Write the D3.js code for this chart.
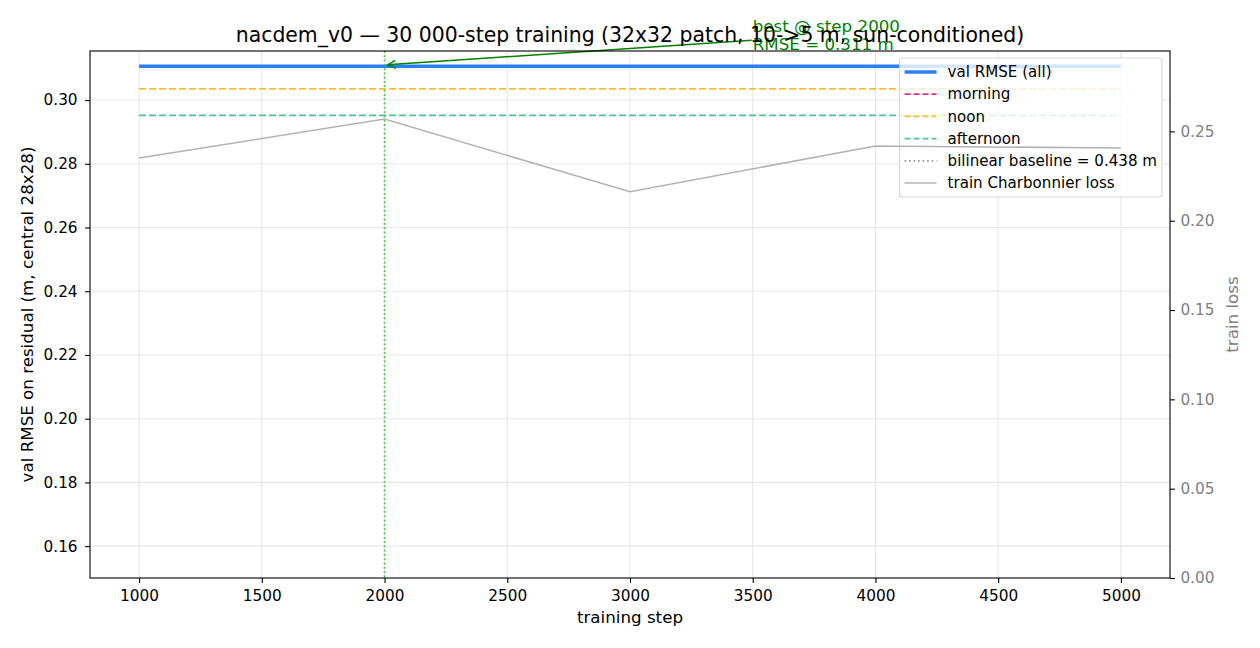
<!DOCTYPE html>
<html>
<head>
<meta charset="utf-8">
<script src="https://cdn.jsdelivr.net/npm/d3@7/dist/d3.min.js"></script>
<style>
  html, body { margin: 0; padding: 0; background: #fff; }
  svg { font-family: "DejaVu Sans", sans-serif; display: block; }
</style>
</head>
<body>
<div id="chart"></div>
<script>
// Data
const steps = [1000, 2000, 3000, 4000, 5000];
const valAll = [0.3106, 0.3106, 0.3106, 0.3106, 0.3106];
const valMorning = [null, null, null, null, null]; // not visible in the picture
const valNoon = [0.3035, 0.3035, 0.3035, 0.3035, 0.3035];
const valAfternoon = [0.2952, 0.2952, 0.2952, 0.2952, 0.2952];
const trainLoss = [0.2351, 0.2569, 0.2162, 0.2418, 0.2407];
const bilinearBaseline = 0.438;
const bestStep = 2000;
const bestRmse = 0.311;

const xTicks = [1000, 1500, 2000, 2500, 3000, 3500, 4000, 4500, 5000];
const leftTicks = [0.16, 0.18, 0.20, 0.22, 0.24, 0.26, 0.28, 0.30];
const rightTicks = [0.00, 0.05, 0.10, 0.15, 0.20, 0.25];

const titleText = "nacdem_v0 \u2014 30 000-step training (32x32 patch, 10->5 m, sun-conditioned)";

// Layout
const width = 1260, height = 648;
const margin = { top: 51, right: 90, bottom: 70, left: 90 };
const tickFs = 15.3;   // tick labels
const legendFs = 15.1;
const labelFs = 16.7;  // axis labels and annotation
const titleFs = 20.4;

const svg = d3.select("#chart")
  .append("svg")
  .attr("width", width)
  .attr("height", height);

// Scales
const x = d3.scaleLinear()
  .domain([800, 5200])
  .range([margin.left, width - margin.right]);

const y = d3.scaleLinear()
  .domain([0.15, 0.3154])
  .range([height - margin.bottom, margin.top]);

const y2 = d3.scaleLinear()
  .domain([0, 0.295])
  .range([height - margin.bottom, margin.top]);

// Clip for plot area
svg.append("clipPath").attr("id", "plotclip")
  .append("rect")
  .attr("x", margin.left).attr("y", margin.top)
  .attr("width", x.range()[1] - x.range()[0])
  .attr("height", y.range()[0] - y.range()[1]);

// Grid
const grid = svg.append("g").attr("class", "grid");
grid.selectAll(".gx").data(xTicks).join("line")
  .attr("x1", d => x(d)).attr("x2", d => x(d))
  .attr("y1", y.range()[1]).attr("y2", y.range()[0])
  .attr("stroke", "#e7e7e7").attr("stroke-width", 1.1);
grid.selectAll(".gy").data(leftTicks).join("line")
  .attr("x1", x.range()[0]).attr("x2", x.range()[1])
  .attr("y1", d => y(d)).attr("y2", d => y(d))
  .attr("stroke", "#e7e7e7").attr("stroke-width", 1.1);

// Series on the left axis
const line = d3.line()
  .defined(d => d[1] != null)
  .x(d => x(d[0]))
  .y(d => y(d[1]));

const series = [
  { name: "val RMSE (all)", values: valAll, color: "#2a7fff", width: 3.5, dash: null },
  { name: "morning", values: valMorning, color: "#f0288c", width: 1.8, dash: "7,3" },
  { name: "noon", values: valNoon, color: "#fbbf24", width: 1.8, dash: "7,3" },
  { name: "afternoon", values: valAfternoon, color: "#4cc699", width: 1.8, dash: "7,3" }
];

const plot = svg.append("g").attr("clip-path", "url(#plotclip)");

series.forEach(s => {
  plot.append("path")
    .datum(steps.map((st, i) => [st, s.values[i]]))
    .attr("fill", "none")
    .attr("stroke", s.color)
    .attr("stroke-width", s.width)
    .attr("stroke-dasharray", s.dash)
    .attr("d", line);
});

// Bilinear baseline (above the visible range)
plot.append("line")
  .attr("x1", x.range()[0]).attr("x2", x.range()[1])
  .attr("y1", y(bilinearBaseline)).attr("y2", y(bilinearBaseline))
  .attr("stroke", "#999").attr("stroke-width", 1.7)
  .attr("stroke-dasharray", "1.7,2.8");

// Best-step marker
plot.append("line")
  .attr("x1", x(bestStep)).attr("x2", x(bestStep))
  .attr("y1", y.range()[1]).attr("y2", y.range()[0])
  .attr("stroke", "#33cc33").attr("stroke-width", 1.7)
  .attr("stroke-dasharray", "1.7,2.6");

// Annotation
const annot = svg.append("g");
const annText = annot.append("text")
  .attr("fill", "green")
  .style("font-size", labelFs + "px");
const annBase = y(bestRmse + 0.005) + 1;
annText.append("tspan")
  .attr("x", x(3500)).attr("y", annBase - 17.7)
  .text("best @ step " + bestStep);
annText.append("tspan")
  .attr("x", x(3500)).attr("y", annBase)
  .text("RMSE = " + bestRmse.toFixed(3) + " m");

{
  const bb = annText.node().getBBox();
  const cx = bb.x + bb.width / 2, cy = bb.y + bb.height / 2;
  const tx = x(bestStep), ty = y(bestRmse);
  const sx = bb.x - 1;
  const sy = cy + (ty - cy) * (sx - cx) / (tx - cx);
  const ang = Math.atan2(ty - sy, tx - sx);
  const ex = tx - 3 * Math.cos(ang), ey = ty - 3 * Math.sin(ang);
  annot.append("line")
    .attr("x1", sx).attr("y1", sy).attr("x2", ex).attr("y2", ey)
    .attr("stroke", "green").attr("stroke-width", 1.4);
  const hl = 8, hw = 4;
  const p1 = [ex - hl * Math.cos(ang) + hw * Math.sin(ang), ey - hl * Math.sin(ang) - hw * Math.cos(ang)];
  const p2 = [ex - hl * Math.cos(ang) - hw * Math.sin(ang), ey - hl * Math.sin(ang) + hw * Math.cos(ang)];
  annot.append("path")
    .attr("d", `M${p1[0]},${p1[1]}L${ex},${ey}L${p2[0]},${p2[1]}`)
    .attr("fill", "none").attr("stroke", "green").attr("stroke-width", 1.4);
}

// Axes
const xAxis = svg.append("g")
  .attr("transform", `translate(0,${y.range()[0]})`)
  .call(d3.axisBottom(x).tickValues(xTicks).tickFormat(d3.format("d")).tickSize(4.9).tickPadding(7.5));

const yAxis = svg.append("g")
  .attr("transform", `translate(${margin.left},0)`)
  .call(d3.axisLeft(y).tickValues(leftTicks).tickFormat(d3.format(".2f")).tickSize(4.9).tickPadding(7.5));

const y2Axis = svg.append("g")
  .attr("transform", `translate(${width - margin.right},0)`)
  .call(d3.axisRight(y2).tickValues(rightTicks).tickFormat(d3.format(".2f")).tickSize(4.9).tickPadding(5.5));

[xAxis, yAxis, y2Axis].forEach(a => {
  a.select(".domain").remove();
  a.selectAll(".tick line").attr("stroke", "#000").attr("stroke-width", 1.1);
  a.selectAll(".tick text").style("font-size", tickFs + "px").style("font-family", "DejaVu Sans").attr("fill", "#000");
});
y2Axis.selectAll(".tick text").attr("fill", "#808080");

// Legend (belongs to the left axes, drawn under the twin axis line)
const legendItems = [
  { name: series[0].name, color: series[0].color, width: 3.5, dash: null },
  { name: series[1].name, color: series[1].color, width: 1.8, dash: "6,3" },
  { name: series[2].name, color: series[2].color, width: 1.8, dash: "6,3" },
  { name: series[3].name, color: series[3].color, width: 1.8, dash: "6,3" },
  { name: "bilinear baseline = " + bilinearBaseline.toFixed(3) + " m", color: "#999", width: 1.7, dash: "1.7,2.8" },
  { name: "train Charbonnier loss", color: "#b3b3b3", width: 1.7, dash: null }
];

const legend = svg.append("g");
const legendBox = legend.append("rect")
  .attr("fill", "#fff").attr("fill-opacity", 0.8)
  .attr("stroke", "#cccccc").attr("stroke-opacity", 0.8)
  .attr("stroke-width", 1.1)
  .attr("rx", 3);
const rowH = 22.2;
const handleLen = 32, pad = 5, textPad = 11;
const rows = legend.selectAll(".row").data(legendItems).join("g");
rows.append("line")
  .attr("x1", 0).attr("x2", handleLen)
  .attr("stroke", d => d.color).attr("stroke-width", d => d.width)
  .attr("stroke-dasharray", d => d.dash);
const legendTexts = rows.append("text")
  .attr("x", handleLen + textPad)
  .attr("dy", "0.35em")
  .style("font-size", legendFs + "px")
  .text(d => d.name);

{
  const maxW = d3.max(legendTexts.nodes(), n => n.getComputedTextLength());
  const boxW = pad + handleLen + textPad + maxW + 5;
  const boxH = 139;
  const bx = x.range()[1] - 8 - boxW;
  const by = y.range()[1] + 7;
  legendBox.attr("x", bx).attr("y", by).attr("width", boxW).attr("height", boxH);
  rows.attr("transform", (d, i) => `translate(${bx + pad},${by + 14 + i * rowH})`);
}

// Twin axis: train loss drawn on top
const line2 = d3.line()
  .x((d, i) => x(steps[i]))
  .y(d => y2(d));
svg.append("g").attr("clip-path", "url(#plotclip)")
  .append("path")
  .datum(trainLoss)
  .attr("fill", "none")
  .attr("stroke", "#b3b3b3")
  .attr("stroke-width", 1.6)
  .attr("d", line2);

// Spines
svg.append("rect")
  .attr("x", x.range()[0]).attr("y", y.range()[1])
  .attr("width", x.range()[1] - x.range()[0])
  .attr("height", y.range()[0] - y.range()[1])
  .attr("fill", "none").attr("stroke", "#000").attr("stroke-width", 1.1);

// Titles and labels
svg.append("text")
  .attr("x", (x.range()[0] + x.range()[1]) / 2)
  .attr("y", 42)
  .attr("text-anchor", "middle")
  .style("font-size", titleFs + "px")
  .text(titleText);

svg.append("text")
  .attr("x", (x.range()[0] + x.range()[1]) / 2)
  .attr("y", 623)
  .attr("text-anchor", "middle")
  .style("font-size", labelFs + "px")
  .text("training step");

svg.append("text")
  .attr("transform", `translate(33,${(y.range()[0] + y.range()[1]) / 2}) rotate(-90)`)
  .attr("text-anchor", "middle")
  .style("font-size", labelFs + "px")
  .text("val RMSE on residual (m, central 28x28)");

svg.append("text")
  .attr("transform", `translate(1238,${(y.range()[0] + y.range()[1]) / 2}) rotate(-90)`)
  .attr("text-anchor", "middle")
  .attr("fill", "#808080")
  .style("font-size", labelFs + "px")
  .text("train loss");
</script>
</body>
</html>
